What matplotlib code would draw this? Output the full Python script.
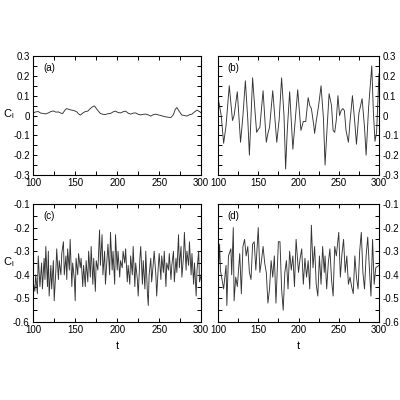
import matplotlib
matplotlib.use('Agg')
import matplotlib.pyplot as plt
from matplotlib.ticker import MultipleLocator

# panel (a): lift coefficient, small amplitude
t_a = [100, 103, 106, 109, 112, 115, 118, 121, 124, 127, 130, 133, 135, 138, 140, 143, 146,
       149, 152, 154, 156, 159, 162, 165, 168, 171, 173, 176, 180, 183, 186, 189, 192, 195,
       198, 201, 204, 207, 210, 213, 216, 219, 222, 225, 228, 231, 234, 237, 240, 243, 246,
       249, 252, 255, 258, 261, 264, 267, 269, 271, 274, 277, 280, 283, 286, 289, 292, 295, 298, 300]
c_a = [0.013, 0.018, 0.02, 0.012, 0.01, 0.008, 0.013, 0.02, 0.023, 0.017, 0.018, 0.012, 0.01,
       0.028, 0.035, 0.03, 0.027, 0.024, 0.018, 0.008, 0.002, 0.012, 0.02, 0.022, 0.035, 0.045,
       0.048, 0.03, 0.01, 0.006, 0.005, 0.009, 0.01, 0.018, 0.022, 0.015, 0.013, 0.019, 0.022,
       0.012, 0.007, 0.012, 0.013, 0.006, 0.003, 0.006, 0.007, 0.003, -0.003, 0.004, 0.007,
       0.003, 0.0, -0.004, -0.007, -0.009, -0.01, 0.005, 0.03, 0.04, 0.02, 0.002, 0.0, -0.003,
       0.004, 0.007, 0.018, 0.027, 0.02, 0.012]

# panel (b)
t_b = [100, 104, 107, 110, 114, 118, 120, 124, 128, 131, 134, 137, 139, 143, 146, 148, 150,
       152, 156, 160, 162, 164, 168, 173, 176, 179, 182, 184, 186, 189, 193, 196, 199, 203,
       206, 209, 212, 214, 216, 219, 220, 222, 225, 228, 231, 233, 235, 238, 241, 243, 245,
       247, 249, 251, 253, 255, 257, 259, 262, 264, 267, 270, 272, 275, 279, 282, 284, 287,
       291, 293, 295, 297, 300]
c_b = [0.09, 0.0, -0.14, -0.05, 0.15, -0.025, 0.0, 0.12, -0.135, 0.0, 0.175, -0.02, -0.2,
       0.19, 0.02, -0.085, -0.07, -0.06, 0.125, -0.135, -0.09, -0.06, 0.125, -0.135, -0.02,
       0.19, 0.0, -0.27, -0.08, 0.12, -0.17, -0.02, 0.13, -0.075, -0.03, -0.03, 0.09, 0.05,
       0.035, -0.05, -0.09, -0.03, 0.05, 0.15, -0.015, -0.25, -0.1, 0.11, 0.05, -0.075, -0.085,
       -0.02, 0.1, 0.0, 0.025, 0.035, 0.025, -0.075, -0.135, -0.03, 0.1, -0.04, -0.145, 0.01,
       0.085, -0.06, -0.2, 0.035, 0.25, 0.02, -0.13, -0.085, 0.21]

# panel (c)
t_c = [100, 102, 103, 105, 106, 108, 110, 111, 113, 114, 115, 117, 118, 119, 121, 122, 124,
       125, 127, 128, 130, 131, 133, 134, 136, 137, 139, 140, 141, 143, 144, 146, 147, 149,
       150, 151, 153, 154, 156, 157, 159, 160, 162, 163, 165, 166, 168, 169, 171, 172, 174,
       175, 177, 179, 180, 182, 183, 185, 186, 188, 189, 191, 192, 194, 195, 197, 198, 200,
       201, 203, 204, 206, 207, 209, 210, 212, 213, 215, 216, 218, 219, 221, 222, 224, 225,
       227, 228, 230, 231, 233, 234, 236, 237, 238, 240, 241, 243, 244, 246, 247, 249, 250,
       252, 253, 255, 256, 258, 259, 261, 262, 264, 265, 267, 268, 270, 271, 273, 274, 276,
       277, 279, 280, 282, 283, 285, 286, 288, 289, 291, 292, 294, 295, 297, 298, 300]
c_c = [-0.43, -0.47, -0.40, -0.48, -0.32, -0.45, -0.35, -0.46, -0.33, -0.42, -0.28, -0.45,
       -0.30, -0.49, -0.36, -0.46, -0.34, -0.51, -0.38, -0.29, -0.42, -0.34, -0.40, -0.31,
       -0.26, -0.40, -0.32, -0.42, -0.29, -0.38, -0.25, -0.45, -0.35, -0.42, -0.51, -0.33,
       -0.40, -0.31, -0.37, -0.33, -0.45, -0.36, -0.45, -0.34, -0.43, -0.30, -0.41, -0.28,
       -0.44, -0.33, -0.47, -0.34, -0.38, -0.21, -0.36, -0.23, -0.40, -0.30, -0.44, -0.33,
       -0.27, -0.40, -0.22, -0.38, -0.30, -0.44, -0.23, -0.38, -0.30, -0.41, -0.34, -0.37,
       -0.30, -0.35, -0.29, -0.43, -0.36, -0.44, -0.32, -0.40, -0.28, -0.45, -0.35, -0.42,
       -0.49, -0.33, -0.28, -0.44, -0.34, -0.46, -0.30, -0.48, -0.53, -0.40, -0.33, -0.43,
       -0.35, -0.30, -0.40, -0.49, -0.36, -0.31, -0.42, -0.32, -0.39, -0.30, -0.45, -0.35,
       -0.38, -0.31, -0.42, -0.36, -0.30, -0.43, -0.33, -0.39, -0.23, -0.37, -0.28, -0.41,
       -0.32, -0.22, -0.38, -0.30, -0.36, -0.26, -0.40, -0.31, -0.44, -0.35, -0.49, -0.38,
       -0.30, -0.43, -0.40]

# panel (d)
t_d = [100, 101, 102, 103, 107, 110, 111, 113, 116, 117, 119, 120, 122, 124, 127, 129, 131,
       133, 135, 137, 139, 141, 143, 145, 147, 150, 152, 154, 156, 158, 160, 162, 164, 166,
       168, 170, 172, 175, 177, 179, 181, 183, 185, 187, 189, 191, 193, 195, 197, 200, 202,
       204, 206, 208, 210, 212, 214, 216, 218, 220, 222, 224, 226, 228, 230, 232, 233, 235,
       237, 239, 241, 243, 245, 247, 250, 252, 254, 256, 258, 260, 262, 264, 266, 268, 270,
       272, 274, 276, 278, 280, 282, 284, 286, 288, 290, 292, 294, 296, 298, 300]
c_d = [-0.31, -0.35, -0.27, -0.38, -0.46, -0.36, -0.53, -0.32, -0.29, -0.40, -0.20, -0.51,
       -0.41, -0.45, -0.31, -0.48, -0.28, -0.25, -0.32, -0.28, -0.39, -0.42, -0.27, -0.26,
       -0.38, -0.20, -0.39, -0.34, -0.28, -0.35, -0.39, -0.52, -0.46, -0.34, -0.41, -0.32,
       -0.52, -0.26, -0.26, -0.46, -0.55, -0.39, -0.34, -0.46, -0.30, -0.38, -0.32, -0.45,
       -0.25, -0.39, -0.33, -0.29, -0.44, -0.33, -0.41, -0.34, -0.46, -0.19, -0.37, -0.28,
       -0.44, -0.49, -0.32, -0.44, -0.28, -0.39, -0.32, -0.46, -0.35, -0.29, -0.42, -0.49,
       -0.28, -0.32, -0.22, -0.41, -0.31, -0.25, -0.39, -0.32, -0.44, -0.41, -0.45, -0.48,
       -0.32, -0.41, -0.46, -0.30, -0.22, -0.39, -0.46, -0.32, -0.24, -0.37, -0.49, -0.25,
       -0.44, -0.37, -0.365, -0.36]

plt.rcParams['font.family'] = ['Liberation Sans', 'DejaVu Sans']
plt.rcParams['font.size'] = 7

fig = plt.figure(figsize=(4, 4), dpi=100)
boxes = {'a': [0.083, 0.5625, 0.42, 0.2975], 'b': [0.545, 0.5625, 0.4025, 0.2975],
         'c': [0.083, 0.195, 0.42, 0.295], 'd': [0.545, 0.195, 0.4025, 0.295]}
series = {'a': (t_a, c_a), 'b': (t_b, c_b), 'c': (t_c, c_c), 'd': (t_d, c_d)}

for key in 'abcd':
    ax = fig.add_axes(boxes[key])
    t, c = series[key]
    ax.plot(t, c, color='0.2', linewidth=0.65)
    ax.set_xlim(100, 300)
    if key in 'ab':
        ax.set_ylim(-0.3, 0.3)
        ax.set_yticks([-0.3, -0.2, -0.1, 0, 0.1, 0.2, 0.3])
        ax.set_yticklabels(['-0.3', '-0.2', '-0.1', '0', '0.1', '0.2', '0.3'])
    else:
        ax.set_ylim(-0.6, -0.1)
        ax.set_yticks([-0.6, -0.5, -0.4, -0.3, -0.2, -0.1])
        ax.set_yticklabels(['-0.6', '-0.5', '-0.4', '-0.3', '-0.2', '-0.1'])
        ax.set_xlabel('t', fontsize=8, labelpad=4)
    ax.set_xticks([100, 150, 200, 250, 300])
    ax.xaxis.set_minor_locator(MultipleLocator(25))
    ax.yaxis.set_minor_locator(MultipleLocator(0.05))
    ax.tick_params(which='both', direction='in', top=True, right=True, length=3, width=0.7, pad=2.5)
    if key in 'bd':
        ax.tick_params(axis='y', labelleft=False, labelright=True)
    for s in ax.spines.values():
        s.set_linewidth(0.8)
    ax.text(0.06, 0.9, '(%s)' % key, transform=ax.transAxes, fontsize=7, va='center')

# y labels for the left column
fig.text(0.008, 1 - 114 / 400, r'C$_\mathregular{l}$', fontsize=8, ha='left', va='center')
fig.text(0.008, 1 - 262 / 400, r'C$_\mathregular{l}$', fontsize=8, ha='left', va='center')

fig.savefig('out.png', dpi=100)
